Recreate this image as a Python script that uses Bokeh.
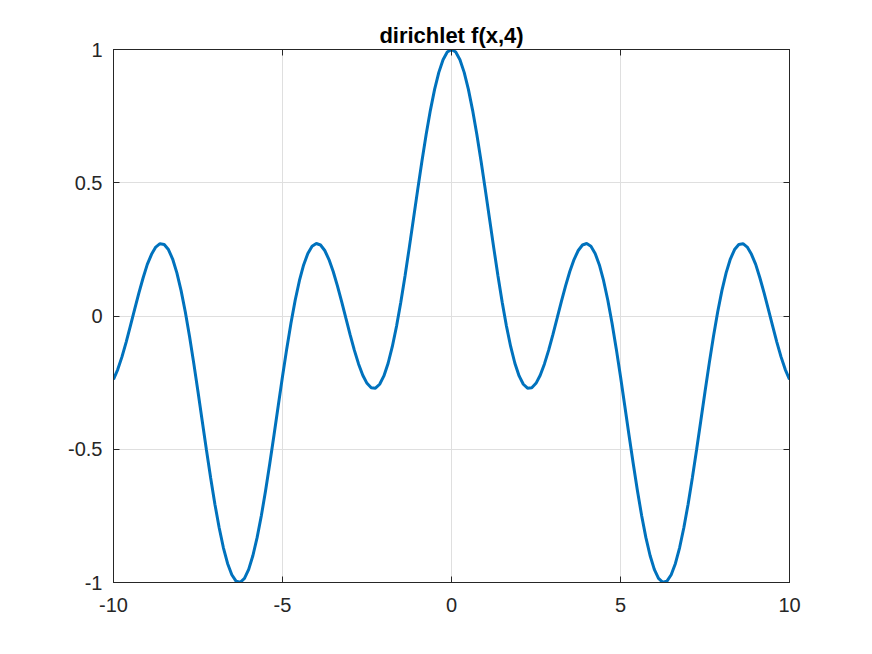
from bokeh.plotting import figure
from bokeh.models import Range1d, FixedTicker, LinearAxis, Title
from bokeh.embed import file_html
from bokeh.resources import INLINE

title_text = "dirichlet f(x,4)"

x_vals = [-10.0, -9.875, -9.75, -9.625, -9.5, -9.375, -9.25, -9.125,
          -9.0, -8.875, -8.75, -8.625, -8.5, -8.375, -8.25, -8.125,
          -8.0, -7.875, -7.75, -7.625, -7.5, -7.375, -7.25, -7.125,
          -7.0, -6.875, -6.75, -6.625, -6.5, -6.375, -6.25, -6.125,
          -6.0, -5.875, -5.75, -5.625, -5.5, -5.375, -5.25, -5.125,
          -5.0, -4.875, -4.75, -4.625, -4.5, -4.375, -4.25, -4.125,
          -4.0, -3.875, -3.75, -3.625, -3.5, -3.375, -3.25, -3.125,
          -3.0, -2.875, -2.75, -2.625, -2.5, -2.375, -2.25, -2.125,
          -2.0, -1.875, -1.75, -1.625, -1.5, -1.375, -1.25, -1.125,
          -1.0, -0.875, -0.75, -0.625, -0.5, -0.375, -0.25, -0.125,
          0.0,
          0.125, 0.25, 0.375, 0.5, 0.625, 0.75, 0.875, 1.0,
          1.125, 1.25, 1.375, 1.5, 1.625, 1.75, 1.875, 2.0,
          2.125, 2.25, 2.375, 2.5, 2.625, 2.75, 2.875, 3.0,
          3.125, 3.25, 3.375, 3.5, 3.625, 3.75, 3.875, 4.0,
          4.125, 4.25, 4.375, 4.5, 4.625, 4.75, 4.875, 5.0,
          5.125, 5.25, 5.375, 5.5, 5.625, 5.75, 5.875, 6.0,
          6.125, 6.25, 6.375, 6.5, 6.625, 6.75, 6.875, 7.0,
          7.125, 7.25, 7.375, 7.5, 7.625, 7.75, 7.875, 8.0,
          8.125, 8.25, 8.375, 8.5, 8.625, 8.75, 8.875, 9.0,
          9.125, 9.25, 9.375, 9.5, 9.625, 9.75, 9.875, 10.0]

y_vals = [-0.23801, -0.20098, -0.15341, -0.09795, -0.03750, 0.02486, 0.08595, 0.14267,
          0.19383, 0.23144, 0.25848, 0.27130, 0.26855, 0.24944, 0.21378, 0.16200,
          0.09510, 0.01471, -0.07711, -0.17779, -0.28444, -0.39389, -0.50285, -0.60797,
          -0.70600, -0.79386, -0.86879, -0.92842, -0.97086, -0.99474, -0.99931, -0.98443,
          -0.95056, -0.89880, -0.83078, -0.74865, -0.65502, -0.55283, -0.44526, -0.33562,
          -0.22725, -0.12340, -0.02708, 0.05897, 0.13242, 0.19145, 0.23477, 0.26165,
          0.27201, 0.26636, 0.24579, 0.21194, 0.16692, 0.11328, 0.05386, -0.00830,
          -0.07003, -0.12821, -0.17982, -0.22210, -0.25262, -0.26937, -0.27085, -0.25613,
          -0.22485, -0.17727, -0.11426, -0.03726, 0.05176, 0.15036, 0.25572, 0.36474,
          0.47416, 0.58063, 0.68085, 0.77169, 0.85030, 0.91420, 0.96135, 0.99026,
          1.00000,
          0.99026, 0.96135, 0.91420, 0.85030, 0.77169, 0.68085, 0.58063, 0.47416,
          0.36474, 0.25572, 0.15036, 0.05176, -0.03726, -0.11426, -0.17727, -0.22485,
          -0.25613, -0.27085, -0.26937, -0.25262, -0.22210, -0.17982, -0.12821, -0.07003,
          -0.00830, 0.05386, 0.11328, 0.16692, 0.21194, 0.24579, 0.26636, 0.27201,
          0.26165, 0.23477, 0.19145, 0.13242, 0.05897, -0.02708, -0.12340, -0.22725,
          -0.33562, -0.44526, -0.55283, -0.65502, -0.74865, -0.83078, -0.89880, -0.95056,
          -0.98443, -0.99931, -0.99474, -0.97086, -0.92842, -0.86879, -0.79386, -0.70600,
          -0.60797, -0.50285, -0.39389, -0.28444, -0.17779, -0.07711, 0.01471, 0.09510,
          0.16200, 0.21378, 0.24944, 0.26855, 0.27130, 0.25848, 0.23144, 0.19383,
          0.14267, 0.08595, 0.02486, -0.03750, -0.09795, -0.15341, -0.20098, -0.23801]

x_ticks = [-10, -5, 0, 5, 10]
x_tick_labels = ["-10", "-5", "0", "5", "10"]
y_ticks = [-1, -0.5, 0, 0.5, 1]
y_tick_labels = ["-1", "-0.5", "0", "0.5", "1"]

FONT = "Liberation Sans"
AXIS_COLOR = "#262626"

p = figure(width=856, height=644, output_backend="svg", toolbar_location=None,
           x_range=Range1d(-10, 10), y_range=Range1d(-1, 1),
           min_border_left=113, min_border_right=67, min_border_top=49, min_border_bottom=62,
           x_axis_location=None, y_axis_location=None, title=None)

p.outline_line_color = AXIS_COLOR
p.outline_line_width = 1
p.outline_line_alpha = 1.0
p.background_fill_color = "white"
p.border_fill_color = "white"


def make_axis(ticks, labels, show_labels):
    ax = LinearAxis(ticker=FixedTicker(ticks=ticks))
    ax.major_label_overrides = {t: l for t, l in zip(ticks, labels)}
    ax.axis_line_color = AXIS_COLOR
    ax.major_tick_line_color = AXIS_COLOR
    ax.major_tick_in = 6
    ax.major_tick_out = 0
    ax.minor_tick_line_color = None
    ax.major_label_text_font = FONT
    ax.major_label_text_color = "#262626"
    if show_labels:
        ax.major_label_text_font_size = "20px"
        ax.major_label_standoff = 11
    else:
        ax.major_label_text_font_size = "0px"
        ax.major_label_standoff = 0
        ax.major_label_text_alpha = 0
    return ax


xaxis_b = make_axis(x_ticks, x_tick_labels, True)
xaxis_b.major_label_standoff = 15
p.add_layout(xaxis_b, "below")
p.add_layout(make_axis(y_ticks, y_tick_labels, True), "left")
top_axis = make_axis(x_ticks, x_tick_labels, False)
top_axis.major_label_standoff = 17
p.add_layout(top_axis, "above")
p.add_layout(make_axis(y_ticks, y_tick_labels, False), "right")

title = Title(text=title_text, align="center", text_font=FONT, text_font_size="22px",
              text_font_style="bold", text_color="#000000", standoff=4)
p.add_layout(title, "above")

p.xgrid.ticker = FixedTicker(ticks=x_ticks)
p.ygrid.ticker = FixedTicker(ticks=y_ticks)
p.grid.grid_line_color = "#dfdfdf"
p.grid.grid_line_width = 1

p.line(x_vals, y_vals, line_color="#0072BD", line_width=3)

open("out.html", "w").write(file_html(p, INLINE))
